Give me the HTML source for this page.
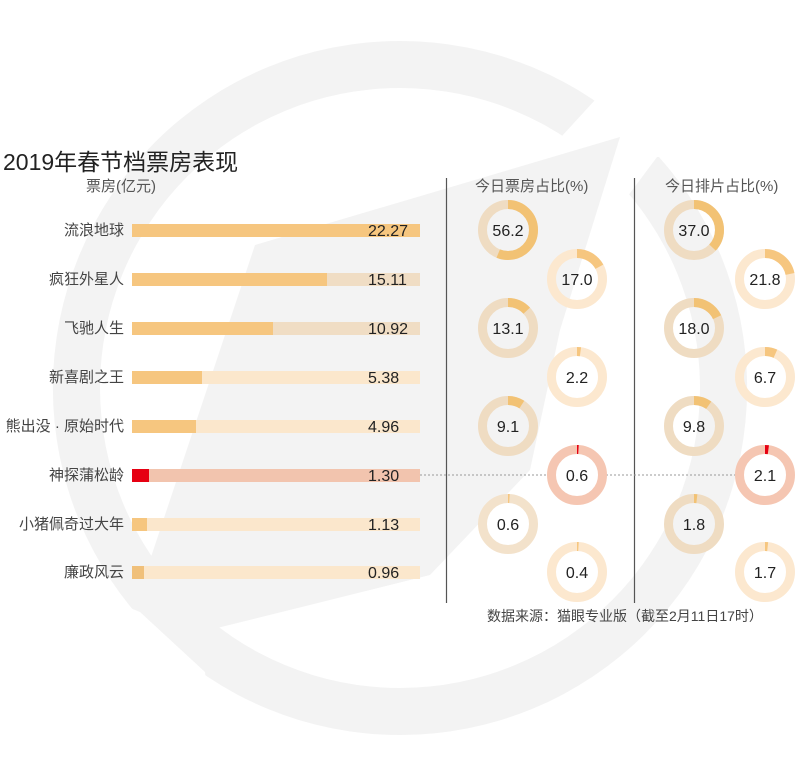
<!DOCTYPE html>
<html><head><meta charset="utf-8"><style>
html,body{margin:0;padding:0;background:#fff}
svg{display:block}
text{font-family:"Liberation Sans","Noto Sans CJK SC",sans-serif}
</style></head><body>
<svg width="800" height="775" viewBox="0 0 800 775" xmlns="http://www.w3.org/2000/svg">
<path fill="#f3f3f3" fill-rule="evenodd" d="M400,41 A347,347 0 1 0 400,735 A347,347 0 1 0 400,41 Z M400,88 A300,300 0 1 1 400,688 A300,300 0 1 1 400,88 Z"/>
<polygon fill="#fff" points="585,40 780,40 780,160 657,157 610,220 540,160 595,100"/>
<polygon fill="#fff" points="110,600 140,612 205,672 210,720 90,720"/>
<polygon fill="#f3f3f3" points="255,245 620,137 560,330 530,470 430,575 181,637 150,560"/>

<text x="3" y="170" font-size="23" fill="#222">2019年春节档票房表现</text>
<text x="86" y="191" font-size="15" fill="#555">票房(亿元)</text>
<text x="475" y="191" font-size="15" fill="#555">今日票房占比(%)</text>
<text x="665" y="191" font-size="15" fill="#555">今日排片占比(%)</text>
<line x1="446.5" y1="178" x2="446.5" y2="603" stroke="#555" stroke-width="1.2"/>
<line x1="634.5" y1="178" x2="634.5" y2="603" stroke="#555" stroke-width="1.2"/>
<line x1="420" y1="475" x2="548" y2="475" stroke="#999" stroke-width="1" stroke-dasharray="2,2"/>
<line x1="606" y1="475" x2="735" y2="475" stroke="#999" stroke-width="1" stroke-dasharray="2,2"/>

<g font-size="15" fill="#444" text-anchor="end">
<text x="124" y="235">流浪地球</text>
<text x="124" y="284">疯狂外星人</text>
<text x="124" y="333">飞驰人生</text>
<text x="124" y="382">新喜剧之王</text>
<text x="124" y="431">熊出没 · 原始时代</text>
<text x="124" y="480">神探蒲松龄</text>
<text x="124" y="529">小猪佩奇过大年</text>
<text x="124" y="577">廉政风云</text>
</g>
<g>
<rect x="132" y="224" width="288" height="13" fill="#f6c67f"/>
<rect x="132" y="273" width="288" height="13" fill="#f0ddc4"/><rect x="132" y="273" width="195" height="13" fill="#f6c67f"/>
<rect x="132" y="322" width="288" height="13" fill="#f0ddc4"/><rect x="132" y="322" width="141" height="13" fill="#f6c67f"/>
<rect x="132" y="371" width="288" height="13" fill="#fbe7cc"/><rect x="132" y="371" width="70" height="13" fill="#f6c67f"/>
<rect x="132" y="420" width="288" height="13" fill="#fbe7cc"/><rect x="132" y="420" width="64" height="13" fill="#f6c67f"/>
<rect x="132" y="469" width="288" height="13" fill="#f2c4ae"/><rect x="132" y="469" width="17" height="13" fill="#e60012"/>
<rect x="132" y="518" width="288" height="13" fill="#fbe7cc"/><rect x="132" y="518" width="15" height="13" fill="#f6c67f"/>
<rect x="132" y="566" width="288" height="13" fill="#fbe7cc"/><rect x="132" y="566" width="12" height="13" fill="#f0c07a"/>
</g>
<g font-size="16" fill="#222">
<text x="368" y="236">22.27</text><text x="368" y="285">15.11</text><text x="368" y="334">10.92</text>
<text x="368" y="383">5.38</text><text x="368" y="432">4.96</text><text x="368" y="481">1.30</text>
<text x="368" y="530">1.13</text><text x="368" y="578">0.96</text>
</g>

<g fill="none" stroke-width="9">
<circle cx="508" cy="230" r="25.5" stroke="#efdcc2"/><circle cx="508" cy="230" r="25.5" stroke="#f2c274" stroke-dasharray="90 200" transform="rotate(-90 508 230)"/>
<circle cx="577" cy="279" r="25.5" stroke="#fce8cf"/><circle cx="577" cy="279" r="25.5" stroke="#f6c67f" stroke-dasharray="27.2 200" transform="rotate(-90 577 279)"/>
<circle cx="508" cy="328" r="25.5" stroke="#efdcc2"/><circle cx="508" cy="328" r="25.5" stroke="#f2c274" stroke-dasharray="21 200" transform="rotate(-90 508 328)"/>
<circle cx="577" cy="377" r="25.5" stroke="#fce8cf"/><circle cx="577" cy="377" r="25.5" stroke="#f6c67f" stroke-dasharray="3.5 200" transform="rotate(-90 577 377)"/>
<circle cx="508" cy="426" r="25.5" stroke="#efdcc2"/><circle cx="508" cy="426" r="25.5" stroke="#f2c274" stroke-dasharray="14.6 200" transform="rotate(-90 508 426)"/>
<circle cx="577" cy="475" r="25.5" stroke="#f5c6b2"/><circle cx="577" cy="475" r="25.5" stroke="#e60012" stroke-dasharray="1.5 200" transform="rotate(-90 577 475)"/>
<circle cx="508" cy="524" r="25.5" stroke="#f3e2cb"/><circle cx="508" cy="524" r="25.5" stroke="#f6c67f" stroke-dasharray="1.5 200" transform="rotate(-90 508 524)"/>
<circle cx="577" cy="572" r="25.5" stroke="#fce8cf"/><circle cx="577" cy="572" r="25.5" stroke="#f6c67f" stroke-dasharray="1.5 200" transform="rotate(-90 577 572)"/>
<circle cx="694" cy="230" r="25.5" stroke="#efdcc2"/><circle cx="694" cy="230" r="25.5" stroke="#f2c274" stroke-dasharray="59.3 200" transform="rotate(-90 694 230)"/>
<circle cx="765" cy="279" r="25.5" stroke="#fce8cf"/><circle cx="765" cy="279" r="25.5" stroke="#f6c67f" stroke-dasharray="34.9 200" transform="rotate(-90 765 279)"/>
<circle cx="694" cy="328" r="25.5" stroke="#efdcc2"/><circle cx="694" cy="328" r="25.5" stroke="#f2c274" stroke-dasharray="28.8 200" transform="rotate(-90 694 328)"/>
<circle cx="765" cy="377" r="25.5" stroke="#fce8cf"/><circle cx="765" cy="377" r="25.5" stroke="#f6c67f" stroke-dasharray="10.7 200" transform="rotate(-90 765 377)"/>
<circle cx="694" cy="426" r="25.5" stroke="#efdcc2"/><circle cx="694" cy="426" r="25.5" stroke="#f2c274" stroke-dasharray="15.7 200" transform="rotate(-90 694 426)"/>
<circle cx="765" cy="475" r="25.5" stroke="#f5c6b2"/><circle cx="765" cy="475" r="25.5" stroke="#e60012" stroke-dasharray="3.4 200" transform="rotate(-90 765 475)"/>
<circle cx="694" cy="524" r="25.5" stroke="#efdcc2"/><circle cx="694" cy="524" r="25.5" stroke="#f2c274" stroke-dasharray="2.9 200" transform="rotate(-90 694 524)"/>
<circle cx="765" cy="572" r="25.5" stroke="#fce8cf"/><circle cx="765" cy="572" r="25.5" stroke="#f6c67f" stroke-dasharray="2.7 200" transform="rotate(-90 765 572)"/>
</g>
<g font-size="16" fill="#222" text-anchor="middle">
<text x="508" y="236">56.2</text><text x="577" y="285">17.0</text><text x="508" y="334">13.1</text><text x="577" y="383">2.2</text>
<text x="508" y="432">9.1</text><text x="577" y="481">0.6</text><text x="508" y="530">0.6</text><text x="577" y="578">0.4</text>
<text x="694" y="236">37.0</text><text x="765" y="285">21.8</text><text x="694" y="334">18.0</text><text x="765" y="383">6.7</text>
<text x="694" y="432">9.8</text><text x="765" y="481">2.1</text><text x="694" y="530">1.8</text><text x="765" y="578">1.7</text>
</g>
<text x="487" y="621" font-size="14" fill="#444">数据来源：猫眼专业版（截至2月11日17时）</text>
</svg>
</body></html>
